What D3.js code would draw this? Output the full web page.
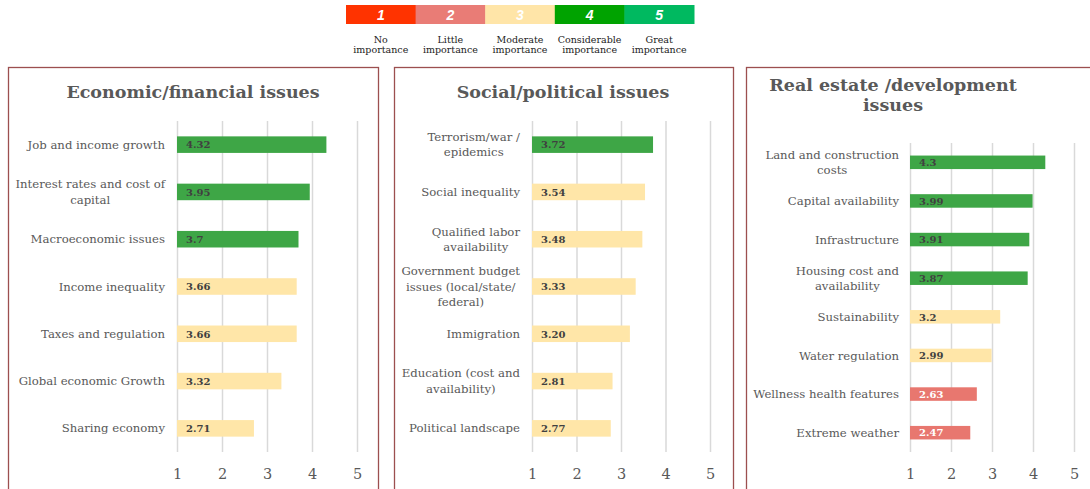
<!DOCTYPE html>
<html>
<head>
<meta charset="utf-8">
<script src="https://cdn.jsdelivr.net/npm/d3@7"></script>
<style>
body { margin: 0; background: #fff; }
svg text { font-family: Georgia, 'DejaVu Serif', serif; }
</style>
</head>
<body>
<div id="chart"></div>
<script>
// legend
var legendLevels = ['1', '2', '3', '4', '5']
var legendLabels = [['No', 'importance'], ['Little', 'importance'], ['Moderate', 'importance'], ['Considerable', 'importance'], ['Great', 'importance']]
var legendColors = ['#ff3300', '#e97c76', '#ffe5a8', '#00a300', '#00b960']

// panel 1
var econTitle = ['Economic/financial issues']
var econCategories = ['Job and income growth', 'Interest rates and cost of\ncapital', 'Macroeconomic issues', 'Income inequality', 'Taxes and regulation', 'Global economic Growth', 'Sharing economy']
var econValues = [4.32, 3.95, 3.7, 3.66, 3.66, 3.32, 2.71]

// panel 2
var socialTitle = ['Social/political issues']
var socialCategories = ['Terrorism/war /\nepidemics', 'Social inequality', 'Qualified labor\navailability', 'Government budget\nissues (local/state/\nfederal)', 'Immigration', 'Education (cost and\navailability)', 'Political landscape']
var socialValues = [3.72, 3.54, 3.48, 3.33, 3.20, 2.81, 2.77]

// panel 3
var realTitle = ['Real estate /development', 'issues']
var realCategories = ['Land and construction\ncosts', 'Capital availability', 'Infrastructure', 'Housing cost and\navailability', 'Sustainability', 'Water regulation', 'Wellness health features', 'Extreme weather']
var realValues = [4.3, 3.99, 3.91, 3.87, 3.2, 2.99, 2.63, 2.47]

var axisTicks = [1, 2, 3, 4, 5]

var width = 1090, height = 489
var textGray = '#595959'

var svg = d3.select('#chart').append('svg')
    .attr('width', width)
    .attr('height', height)

// bar colour by importance band
var barColor = d3.scaleThreshold()
    .domain([2.7, 3.7])
    .range(['#e8776f', '#ffe6a8', '#3ea646'])

// ---- legend ----
var legX = d3.scaleBand().domain(legendLevels).range([346, 694])
var leg = svg.append('g').attr('class', 'legend')
leg.selectAll('rect')
  .data(legendLevels)
  .enter().append('rect')
    .attr('x', function(d) { return legX(d) })
    .attr('y', 5)
    .attr('width', legX.bandwidth() + 0.5)
    .attr('height', 19)
    .attr('fill', function(d, i) { return legendColors[i] })
leg.selectAll('.num')
  .data(legendLevels)
  .enter().append('text')
    .attr('class', 'num')
    .attr('x', function(d) { return legX(d) + legX.bandwidth() / 2 })
    .attr('y', 20)
    .attr('text-anchor', 'middle')
    .style('font', 'italic bold 14px "Liberation Sans", Arial, sans-serif')
    .attr('fill', '#fff')
    .text(function(d) { return d })
leg.selectAll('.lab')
  .data(legendLabels)
  .enter().append('text')
    .attr('class', 'lab')
    .attr('text-anchor', 'middle')
    .attr('fill', '#222')
    .style('font-size', '9.5px')
    .each(function(d, i) {
      var t = d3.select(this)
      d.forEach(function(line, j) {
        t.append('tspan')
          .attr('x', legX(legendLevels[i]) + legX.bandwidth() / 2)
          .attr('y', 43 + j * 9.5)
          .text(line)
      })
    })

// ---- panels ----
var panels = [
  {title: econTitle, cats: econCategories, vals: econValues, fmt: String,
   box: [8, 378], xr: [177, 357], yr: [121, 452], labelX: 165, titleX: 193, titleY: [98]},
  {title: socialTitle, cats: socialCategories, vals: socialValues, fmt: d3.format('.2f'),
   box: [394, 733], xr: [532, 710], yr: [121, 452], labelX: 520, titleX: 563, titleY: [98]},
  {title: realTitle, cats: realCategories, vals: realValues, fmt: String,
   box: [746, 1100], xr: [910, 1074], yr: [143, 452], labelX: 899, titleX: 893, titleY: [91, 111]}
]

panels.forEach(function(p) {
  var g = svg.append('g').attr('class', 'panel')

  g.append('rect')
      .attr('x', p.box[0] + 0.5)
      .attr('y', 67.5)
      .attr('width', p.box[1] - p.box[0])
      .attr('height', 440)
      .attr('fill', 'none')
      .attr('stroke', '#9c4f4f')
      .attr('stroke-width', 1.3)

  g.selectAll('.title')
    .data(p.title)
    .enter().append('text')
      .attr('class', 'title')
      .attr('x', p.titleX)
      .attr('y', function(d, i) { return p.titleY[i] })
      .attr('text-anchor', 'middle')
      .attr('fill', textGray)
      .style('font-size', '17.5px')
      .style('font-weight', 'bold')
      .text(function(d) { return d })

  var x = d3.scaleLinear().domain([1, 5]).range(p.xr)
  var y = d3.scaleBand().domain(p.cats).range(p.yr).paddingInner(0.65).paddingOuter(0.325)

  // gridlines + tick labels
  var ax = g.append('g')
      .attr('transform', 'translate(0,' + p.yr[1] + ')')
      .call(d3.axisBottom(x).tickValues(axisTicks).tickFormat(d3.format('d'))
        .tickSize(-(p.yr[1] - p.yr[0])).tickPadding(17))
  ax.select('.domain').remove()
  ax.selectAll('line').attr('stroke', '#d9d9d9').attr('stroke-width', 1.5)
  ax.selectAll('text')
      .attr('fill', textGray)
      .style('font-size', '14.5px')
      .style('font-family', "Georgia, 'DejaVu Serif', serif")

  var data = p.cats.map(function(c, i) { return {cat: c, val: p.vals[i]} })

  g.selectAll('.bar')
    .data(data)
    .enter().append('rect')
      .attr('class', 'bar')
      .attr('x', x(1))
      .attr('y', function(d) { return y(d.cat) })
      .attr('width', function(d) { return x(d.val) - x(1) })
      .attr('height', y.bandwidth())
      .attr('fill', function(d) { return barColor(d.val) })

  g.selectAll('.val')
    .data(data)
    .enter().append('text')
      .attr('class', 'val')
      .attr('x', x(1) + 9)
      .attr('y', function(d) { return y(d.cat) + y.bandwidth() / 2 })
      .attr('dy', '0.38em')
      .attr('fill', function(d) { return d.val < 2.7 ? '#fff' : '#404040' })
      .style('font-size', '10px')
      .style('font-weight', 'bold')
      .text(function(d) { return p.fmt(d.val) })

  // category labels: block right-aligned, lines centred within the block
  g.selectAll('.cat')
    .data(data)
    .enter().append('text')
      .attr('class', 'cat')
      .attr('text-anchor', 'middle')
      .attr('fill', textGray)
      .style('font-size', '11.7px')
      .each(function(d) {
        var lines = d.cat.split('\n')
        var t = d3.select(this)
        var cy = y(d.cat) + y.bandwidth() / 2
        var lh = 15.5
        var spans = lines.map(function(line, j) {
          return t.append('tspan')
            .attr('y', cy + (j - (lines.length - 1) / 2) * lh)
            .attr('dy', '0.35em')
            .text(line)
        })
        var maxW = d3.max(spans, function(s) { return s.node().getComputedTextLength() })
        spans.forEach(function(s) { s.attr('x', p.labelX - maxW / 2) })
      })
})
</script>
</body>
</html>
